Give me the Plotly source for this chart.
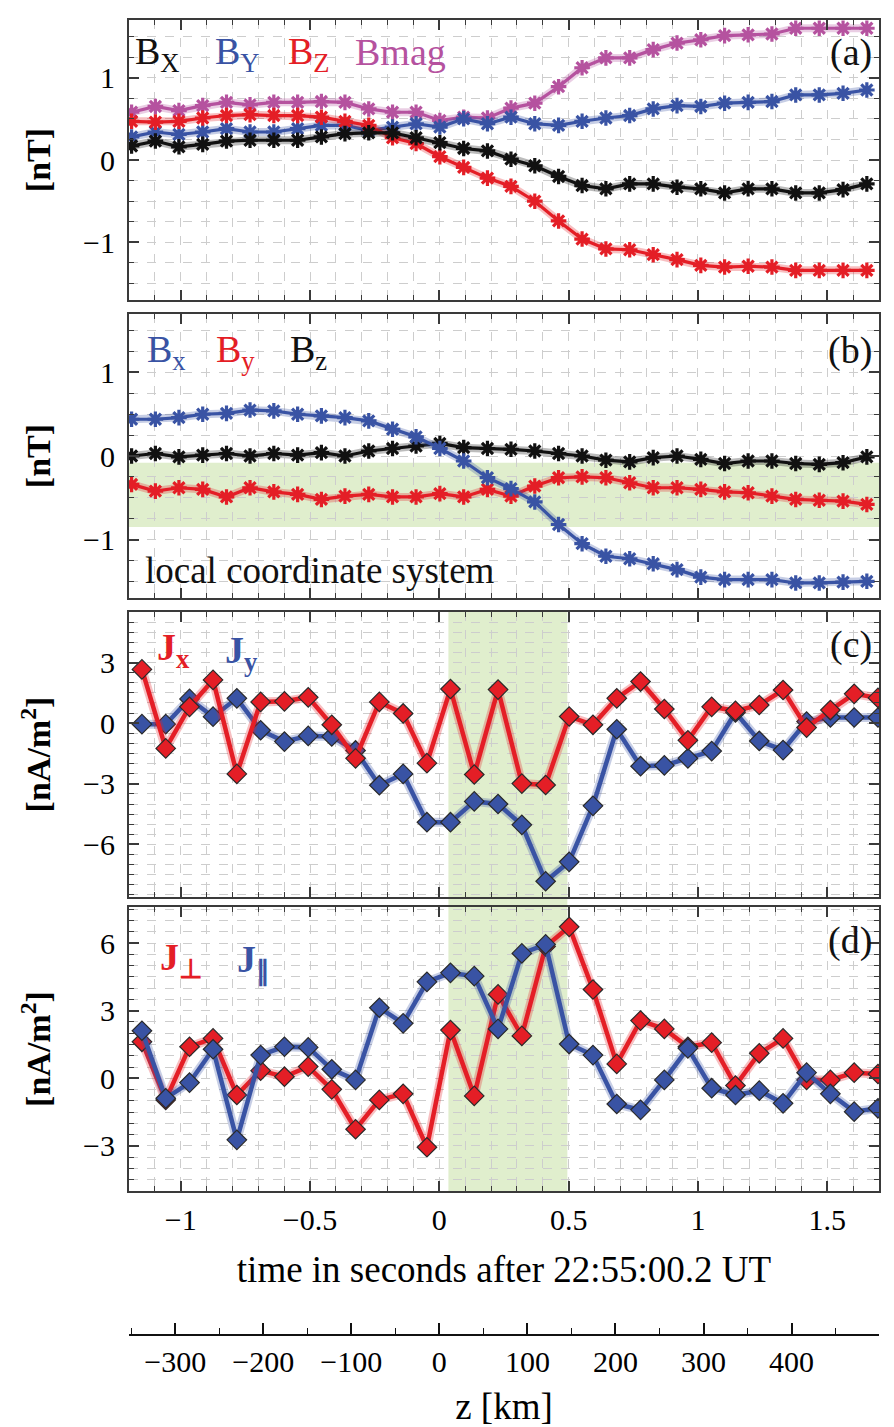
import plotly.graph_objects as go

# ---------------- data ----------------
# sample times (s after 22:55:00.2 UT) of the magnetic field samples (panels a, b)
t_ab = [-1.190, -1.098, -1.007, -0.915, -0.823, -0.732, -0.640, -0.548, -0.456, -0.365,
        -0.273, -0.181, -0.090, 0.002, 0.094, 0.186, 0.277, 0.369, 0.461, 0.552,
        0.644, 0.736, 0.827, 0.919, 1.011, 1.103, 1.194, 1.286, 1.378, 1.469,
        1.561, 1.653]
# sample times of the current densities (panels c, d)
t_cd = [-1.150, -1.058, -0.966, -0.875, -0.783, -0.691, -0.599, -0.507, -0.416, -0.324,
        -0.232, -0.140, -0.048, 0.043, 0.135, 0.227, 0.319, 0.411, 0.502, 0.594,
        0.686, 0.778, 0.870, 0.961, 1.053, 1.145, 1.237, 1.329, 1.420, 1.512,
        1.604, 1.696]

# panel (a) [nT]
a_Bx = [0.17, 0.23, 0.16, 0.19, 0.23, 0.24, 0.24, 0.24, 0.28, 0.32, 0.33, 0.33, 0.27, 0.21,
        0.14, 0.11, 0.01, -0.07, -0.20, -0.31, -0.35, -0.29, -0.29, -0.33, -0.35, -0.40,
        -0.35, -0.35, -0.40, -0.40, -0.36, -0.29]
a_By = [0.28, 0.34, 0.31, 0.34, 0.38, 0.34, 0.34, 0.38, 0.42, 0.42, 0.36, 0.40, 0.44, 0.40,
        0.50, 0.44, 0.52, 0.44, 0.42, 0.47, 0.51, 0.54, 0.62, 0.66, 0.65, 0.69, 0.70, 0.71,
        0.79, 0.79, 0.81, 0.85]
a_Bz = [0.47, 0.46, 0.47, 0.51, 0.54, 0.55, 0.54, 0.54, 0.52, 0.47, 0.42, 0.27, 0.20, 0.04,
        -0.09, -0.22, -0.32, -0.50, -0.74, -0.96, -1.08, -1.09, -1.15, -1.21, -1.28, -1.30,
        -1.29, -1.30, -1.34, -1.34, -1.34, -1.34]
a_Bmag = [0.58, 0.65, 0.60, 0.66, 0.70, 0.67, 0.70, 0.70, 0.71, 0.70, 0.62, 0.58, 0.58, 0.48,
          0.52, 0.51, 0.63, 0.69, 0.89, 1.12, 1.24, 1.24, 1.34, 1.42, 1.46, 1.51, 1.52, 1.53,
          1.60, 1.60, 1.60, 1.60]

# panel (b) local coordinate system [nT]
b_Bx = [0.44, 0.44, 0.46, 0.50, 0.51, 0.55, 0.54, 0.50, 0.48, 0.46, 0.42, 0.32, 0.23, 0.09,
        -0.06, -0.26, -0.39, -0.55, -0.82, -1.05, -1.20, -1.23, -1.29, -1.36, -1.45, -1.48,
        -1.48, -1.48, -1.52, -1.52, -1.51, -1.50]
b_By = [-0.34, -0.42, -0.38, -0.40, -0.49, -0.38, -0.43, -0.46, -0.52, -0.48, -0.46, -0.49,
        -0.49, -0.45, -0.49, -0.40, -0.48, -0.36, -0.26, -0.25, -0.26, -0.32, -0.38, -0.38,
        -0.40, -0.43, -0.44, -0.48, -0.52, -0.53, -0.54, -0.58]
b_Bz = [0.00, 0.03, -0.01, 0.01, 0.03, 0.00, 0.03, 0.01, 0.04, 0.00, 0.06, 0.09, 0.12, 0.15,
        0.10, 0.09, 0.08, 0.06, 0.03, 0.00, -0.05, -0.07, -0.02, 0.00, -0.04, -0.09, -0.06,
        -0.06, -0.09, -0.10, -0.08, -0.01]
b_band = [-0.85, -0.08]

# panel (c) [nA/m^2]
c_Jx = [2.66, -1.25, 0.81, 2.14, -2.51, 1.05, 1.08, 1.28, -0.08, -1.74, 1.05, 0.48, -1.98,
        1.69, -2.54, 1.66, -2.99, -3.06, 0.33, -0.08, 1.23, 2.06, 0.70, -0.85, 0.81, 0.61,
        0.90, 1.64, -0.22, 0.65, 1.45, 1.25]
c_Jy = [-0.05, -0.05, 1.20, 0.32, 1.23, -0.35, -0.91, -0.63, -0.66, -1.35, -3.07, -2.51,
        -4.90, -4.90, -3.87, -4.00, -5.03, -7.82, -6.86, -4.09, -0.30, -2.13, -2.09, -1.74,
        -1.38, 0.53, -0.88, -1.33, 0.08, 0.28, 0.28, 0.28]

# panel (d) [nA/m^2]
d_Jperp = [1.62, -0.96, 1.40, 1.77, -0.74, 0.34, 0.07, 0.52, -0.49, -2.26, -0.96, -0.69,
           -3.06, 2.14, -0.78, 3.72, 1.88, 5.85, 6.72, 3.94, 0.64, 2.56, 2.19, 1.40, 1.58,
           -0.32, 1.11, 1.77, -0.07, -0.07, 0.25, 0.19]
d_Jpar = [2.11, -0.89, -0.19, 1.29, -2.73, 1.03, 1.40, 1.37, 0.40, -0.07, 3.13, 2.44, 4.28,
          4.68, 4.53, 2.19, 5.54, 5.94, 1.52, 1.03, -1.14, -1.40, -0.07, 1.33, -0.44, -0.74,
          -0.55, -1.11, 0.25, -0.69, -1.48, -1.33]

t_band = [0.035, 0.495]          # highlighted interval (s)
t_range = [-1.2, 1.7]
km_per_s = 293.7                 # conversion time -> z [km]

x_ticks_time = [-1, -0.5, 0, 0.5, 1, 1.5]
z_ticks = [-300, -200, -100, 0, 100, 200, 300, 400]

# ---------------- styling ----------------
FONT = "Liberation Serif, Times New Roman, serif"
RED = "#e41e26"
BLUE = "#3953a4"
MAG = "#b5529f"
BLK = "#111111"
GREEN = "rgba(214,232,188,0.75)"
FRAME = "#3a3a3a"
GRID = "#cdcdcd"

W, H = 894, 1427
ML, MR, MT, MB = 129, 15, 20, 93
PW, PH = W - ML - MR, H - MT - MB


def fy(ypx):
    return (H - MB - ypx) / PH


def fx(xpx):
    return (xpx - ML) / PW


panels = {"a": (20, 300), "b": (314, 598), "c": (612, 897), "d": (907, 1191)}

fig = go.Figure()


def add_line(t, v, color, xa, ya, kind):
    # soft halo
    fig.add_trace(go.Scatter(x=t, y=v, mode="lines", xaxis=xa, yaxis=ya,
                             line=dict(color=color, width=9 if kind == "d" else 8),
                             opacity=0.28, hoverinfo="skip", showlegend=False))
    if kind == "d":
        fig.add_trace(go.Scatter(x=t, y=v, mode="lines+markers", xaxis=xa, yaxis=ya,
                                 line=dict(color=color, width=4.5),
                                 marker=dict(symbol="diamond", size=15, color=color,
                                             line=dict(color="#2a2a2a", width=1.2)),
                                 showlegend=False))
    else:
        fig.add_trace(go.Scatter(x=t, y=v, mode="lines+markers", xaxis=xa, yaxis=ya,
                                 line=dict(color=color, width=3.2),
                                 marker=dict(symbol="asterisk-open", size=13,
                                             line=dict(color=color, width=3.2)),
                                 showlegend=False))


add_line(t_ab, a_Bmag, MAG, "x", "y", "s")
add_line(t_ab, a_By, BLUE, "x", "y", "s")
add_line(t_ab, a_Bz, RED, "x", "y", "s")
add_line(t_ab, a_Bx, BLK, "x", "y", "s")

add_line(t_ab, b_Bz, BLK, "x2", "y2", "s")
add_line(t_ab, b_By, RED, "x2", "y2", "s")
add_line(t_ab, b_Bx, BLUE, "x2", "y2", "s")

add_line(t_cd, c_Jy, BLUE, "x3", "y3", "d")
add_line(t_cd, c_Jx, RED, "x3", "y3", "d")

add_line(t_cd, d_Jperp, RED, "x4", "y4", "d")
add_line(t_cd, d_Jpar, BLUE, "x4", "y4", "d")

# invisible anchor so that the secondary z [km] axis gets drawn
fig.add_trace(go.Scatter(x=z_ticks, y=[0.5] * len(z_ticks), xaxis="x5", yaxis="y5",
                         mode="markers", marker=dict(size=1, opacity=0),
                         hoverinfo="skip", showlegend=False))

tickfont = dict(family=FONT, size=30, color="black")


def xaxis_cfg(key, show_labels):
    return dict(domain=[0, 1], range=t_range, showline=True, linecolor=FRAME, linewidth=2,
                mirror="allticks", ticks="inside", ticklen=10, tickwidth=1.5, tickcolor=FRAME,
                tickmode="array", tickvals=x_ticks_time, showticklabels=show_labels,
                tickfont=tickfont, ticklabelstandoff=1, automargin=False,
                showgrid=True, gridcolor=GRID, griddash="dash", gridwidth=1, zeroline=False,
                minor=dict(dtick=0.1, tick0=0, ticks="inside", ticklen=5, tickwidth=1.2,
                           tickcolor=FRAME, showgrid=True, gridcolor=GRID, griddash="dash",
                           gridwidth=1))


def yaxis_cfg(key, rng, dtick, mdtick, title):
    y0, y1 = panels[key]
    return dict(domain=[fy(y1), fy(y0)], range=rng, showline=True, linecolor=FRAME, linewidth=2,
                mirror="allticks", ticks="inside", ticklen=10, tickwidth=1.5, tickcolor=FRAME,
                dtick=dtick, tick0=0, tickfont=tickfont, ticklabelstandoff=6, automargin=False,
                showgrid=True, gridcolor=GRID, griddash="dash", gridwidth=1, zeroline=False,
                title=dict(text=title, font=dict(family=FONT, size=34, color="black"), standoff=22),
                minor=dict(dtick=mdtick, tick0=0, ticks="inside", ticklen=5, tickwidth=1.2,
                           tickcolor=FRAME, showgrid=True, gridcolor=GRID, griddash="dash",
                           gridwidth=1))


xa = xaxis_cfg("a", False); xa["anchor"] = "y"
xb = xaxis_cfg("b", False); xb["anchor"] = "y2"
xc = xaxis_cfg("c", False); xc["anchor"] = "y3"
xd = xaxis_cfg("d", True); xd["anchor"] = "y4"
xd["title"] = dict(text="time in seconds after 22:55:00.2 UT",
                   font=dict(family=FONT, size=37, color="black"), standoff=21)

ya = yaxis_cfg("a", [-1.7, 1.7], 1, 0.25, "<b>[nT]</b>"); ya["anchor"] = "x"
yb = yaxis_cfg("b", [-1.7, 1.7], 1, 0.25, "<b>[nT]</b>"); yb["anchor"] = "x2"
yc = yaxis_cfg("c", [-8.6, 5.5], 3, 0.5, "<b>[nA/m<sup>2</sup>]</b>"); yc["anchor"] = "x3"
yd = yaxis_cfg("d", [-5.0, 7.6], 3, 0.5, "<b>[nA/m<sup>2</sup>]</b>"); yd["anchor"] = "x4"

xz = dict(domain=[0, 1], anchor="y5", range=[t_range[0] * km_per_s, t_range[1] * km_per_s],
          showline=True, linecolor=BLK, linewidth=2, mirror=False, ticks="inside", ticklen=11,
          tickwidth=1.5, tickcolor=BLK, tickmode="array", tickvals=z_ticks, tickfont=tickfont,
          ticklabelstandoff=0, showgrid=False, zeroline=False, automargin=False,
          minor=dict(dtick=50, tick0=0, ticks="inside", ticklen=6, tickwidth=1.2, tickcolor=BLK,
                     showgrid=False),
          title=dict(text="z [km]", font=dict(family=FONT, size=37, color="black"), standoff=18))
yz = dict(domain=[0, 0.004], anchor="x5", visible=False, range=[0, 1], automargin=False)

shapes = [
    dict(type="rect", xref="paper", yref="y2", x0=0, x1=1, y0=b_band[0], y1=b_band[1],
         fillcolor=GREEN, line=dict(width=0), layer="below"),
    dict(type="rect", xref="x3", yref="paper", x0=t_band[0], x1=t_band[1],
         y0=fy(panels["d"][1]), y1=fy(panels["c"][0]),
         fillcolor=GREEN, line=dict(width=0), layer="below"),
]


def ann(text, xpx, ypx, color, size=38, xanchor="left"):
    return dict(text=text, x=fx(xpx), y=fy(ypx), xref="paper", yref="paper",
                xanchor=xanchor, yanchor="middle", showarrow=False,
                font=dict(family=FONT, size=size, color=color))


annotations = [
    ann("B<sub>X</sub>", 133, 54, BLK), ann("B<sub>Y</sub>", 213, 54, BLUE),
    ann("B<sub>Z</sub>", 286, 54, RED), ann("Bmag", 353, 52, MAG),
    ann("(a)", 874, 52, BLK, xanchor="right"),
    ann("B<sub>x</sub>", 145, 352, BLUE), ann("B<sub>y</sub>", 214, 352, RED),
    ann("B<sub>z</sub>", 288, 352, BLK), ann("(b)", 874, 350, BLK, xanchor="right"),
    ann("local coordinate system", 143, 571, BLK, size=37),
    ann("<b>J<sub>x</sub></b>", 155, 650, RED), ann("<b>J<sub>y</sub></b>", 223, 653, BLUE),
    ann("(c)", 874, 644, BLK, xanchor="right"),
    ann("<b>J<sub>⊥</sub></b>", 158, 960, RED), ann("<b>J<sub>∥</sub></b>", 235, 962, BLUE),
    ann("(d)", 874, 940, BLK, xanchor="right"),
]

fig.update_layout(
    width=W, height=H, margin=dict(l=ML, r=MR, t=MT, b=MB, pad=0, autoexpand=False),
    paper_bgcolor="white", plot_bgcolor="rgba(0,0,0,0)",
    font=dict(family=FONT, color="black"),
    showlegend=False,
    xaxis=xa, xaxis2=xb, xaxis3=xc, xaxis4=xd, xaxis5=xz,
    yaxis=ya, yaxis2=yb, yaxis3=yc, yaxis4=yd, yaxis5=yz,
    shapes=shapes, annotations=annotations,
)

fig.write_html("out.html")
